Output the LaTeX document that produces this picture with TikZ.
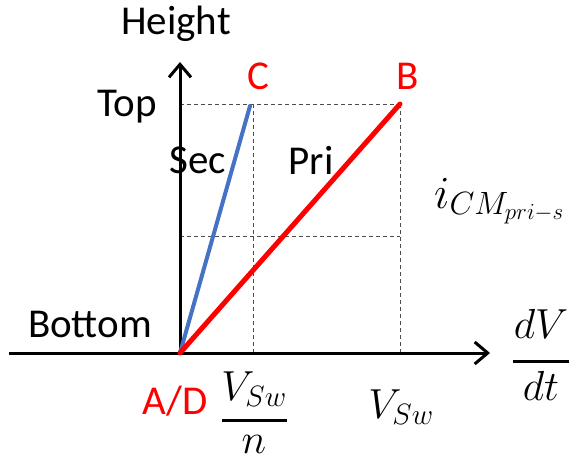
\RequirePackage{fix-cm}
\documentclass[tikz,border=0pt]{standalone}
\usepackage{fontspec}
\setmainfont{Carlito}
\usetikzlibrary{arrows.meta}
\definecolor{blueline}{RGB}{68,114,196}
\tikzset{
  lbl/.style={inner sep=0pt, font=\fontsize{41}{48}\selectfont},
  redlbl/.style={lbl, text=red},
  mlbl/.style={inner sep=0pt, font=\fontsize{42}{50}\selectfont, anchor=base},
  fracbar/.style={line width=3pt},
  axis/.style={line width=3pt, -{Straight Barb[length=13pt,width=22pt,line width=3pt]}},
  guide/.style={line width=0.9pt, dash pattern=on 4pt off 3pt, draw=black!70},
  pri/.style={line width=5pt, draw=red, line cap=round},
  sec/.style={line width=4pt, draw=blueline, line cap=round}
}
\begin{document}
\begin{tikzpicture}[x=1pt,y=-1pt]
\useasboundingbox (0,0) rectangle (569,462);
% points
\coordinate (O) at (180,353);
\coordinate (xs) at (9,353);
\coordinate (xe) at (490,353);
\coordinate (ye) at (180,62);
\coordinate (Bp) at (400,104);
\coordinate (Cp) at (250,106);
\coordinate (Tl) at (180,104);
\coordinate (Ml) at (180,236);
\coordinate (Mr) at (400,236);
\coordinate (Ct) at (253,104);
\coordinate (Cb) at (253,353);
\coordinate (Bb) at (400,353);
% guides
\draw[guide] (Tl) -- (Bp);
\draw[guide] (Ml) -- (Mr);
\draw[guide] (Ct) -- (Cb);
\draw[guide] (Bp) -- (Bb);
% axes
\draw[axis] (xs) -- (xe);
\draw[axis] (O) -- (ye);
% lines
\draw[sec] (O) -- (Cp);
\draw[pri] (O) -- (Bp);
% labels
\node[lbl] (height) at (176,24) {Height};
\node[lbl] (top) at (127,107) {Top};
\node[lbl] (bottom) at (90,324) {Bottom};
\node[lbl] (seclbl) at (198,160) {Sec};
\node[lbl] (prilbl) at (311,160) {Pri};
\node[redlbl] (C) at (258,76) {C};
\node[redlbl] (B) at (408,76) {B};
\node[redlbl] (AD) at (175,401) {A/D};
% V_Sw / n
\node[mlbl] (vsnum) at (254,400) {$V_{Sw}$};
\node[mlbl] (vsden) at (254,453) {$n$};
\coordinate (vsbl) at (222,420);
\coordinate (vsbr) at (287,420);
\draw[fracbar] (vsbl) -- (vsbr);
% V_Sw
\node[mlbl] (vs) at (401,418) {$V_{Sw}$};
% dV/dt
\node[mlbl] (dvnum) at (541,338) {$dV$};
\node[mlbl] (dvden) at (541,400) {$dt$};
\coordinate (dvbl) at (513,361);
\coordinate (dvbr) at (572,361);
\draw[fracbar] (dvbl) -- (dvbr);
% i_CM
\node[mlbl, anchor=base west, font=\fontsize{46}{54}\selectfont] (icm) at (434,208) {$i_{CM_{pri-s}}$};
\end{tikzpicture}
\end{document}
